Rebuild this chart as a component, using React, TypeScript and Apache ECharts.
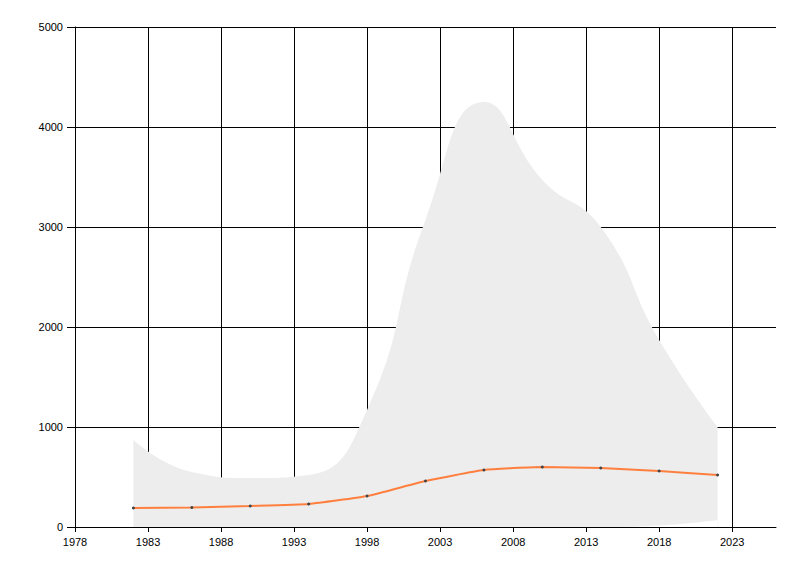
import React, { useEffect, useRef } from "react";
import * as echarts from "echarts";

const years = [1982, 1986, 1990, 1994, 1998, 2002, 2006, 2010, 2014, 2018, 2022];
const meanValues = [190, 195, 210, 230, 310, 460, 570, 600, 590, 560, 520];
const bandUpper = [870, 550, 490, 520, 1170, 3070, 4250, 3470, 3000, 1870, 1000];
const bandLower = [0, 0, 0, 0, 0, 0, 0, 0, 0, 15, 70];
const xTicks = [1978, 1983, 1988, 1993, 1998, 2003, 2008, 2013, 2018, 2023];
const yTicks = [0, 1000, 2000, 3000, 4000, 5000];

export default function App() {
  const ref = useRef<HTMLDivElement>(null);
  useEffect(() => {
    if (!ref.current) return;
    const chart = echarts.init(ref.current, undefined, { renderer: "svg" });
    const font = "Liberation Sans";
    const splitColors = xTicks.map(() => "#000").concat(["rgba(0,0,0,0)"]);
    chart.setOption({
      animation: false,
      backgroundColor: "#fff",
      grid: { left: 75, right: 24, top: 27, bottom: 49, containLabel: false },
      xAxis: {
        type: "value",
        min: 1978,
        max: 2026,
        interval: 5,
        axisLine: { show: true, onZero: false, lineStyle: { color: "#000", width: 1 } },
        axisTick: { show: true, length: 5, lineStyle: { color: "#000" }, customValues: xTicks },
        axisLabel: {
          color: "#000",
          fontFamily: font,
          fontSize: 11,
          margin: 9,
          customValues: xTicks,
          formatter: (v: number) => String(v),
        },
        splitLine: { show: true, lineStyle: { color: splitColors, width: 1 } },
      },
      yAxis: {
        type: "value",
        min: 0,
        max: 5000,
        interval: 1000,
        axisLine: { show: true, lineStyle: { color: "#000", width: 1 } },
        axisTick: { show: true, length: 8, lineStyle: { color: "#000" } },
        axisLabel: {
          color: "#000",
          fontFamily: font,
          fontSize: 11,
          margin: 12,
          formatter: (v: number) => (yTicks.includes(v) ? String(v) : ""),
        },
        splitLine: { show: true, lineStyle: { color: "#000", width: 1 } },
      },
      series: [
        {
          type: "line",
          data: years.map((y, i) => [y, bandUpper[i]]),
          smooth: 0.5,
          symbol: "none",
          lineStyle: { width: 0, opacity: 0 },
          areaStyle: { color: "#ededed", opacity: 1, origin: "start" },
          silent: true,
          z: 1,
        },
        {
          type: "line",
          data: years.map((y, i) => [y, bandLower[i]]),
          smooth: 0.5,
          symbol: "none",
          lineStyle: { width: 0, opacity: 0 },
          areaStyle: { color: "#ffffff", opacity: 1, origin: "start" },
          silent: true,
          z: 1,
        },
        {
          type: "line",
          data: years.map((y, i) => [y, meanValues[i]]),
          smooth: 0.15,
          symbol: "circle",
          symbolSize: 3,
          itemStyle: { color: "#444" },
          lineStyle: { color: "#ff7f3f", width: 2 },
          z: 3,
        },
      ],
    });
    return () => chart.dispose();
  }, []);
  return (
    <div
      ref={ref}
      style={{ position: "fixed", left: 0, top: 0, width: 800, height: 576, background: "#fff" }}
    />
  );
}
